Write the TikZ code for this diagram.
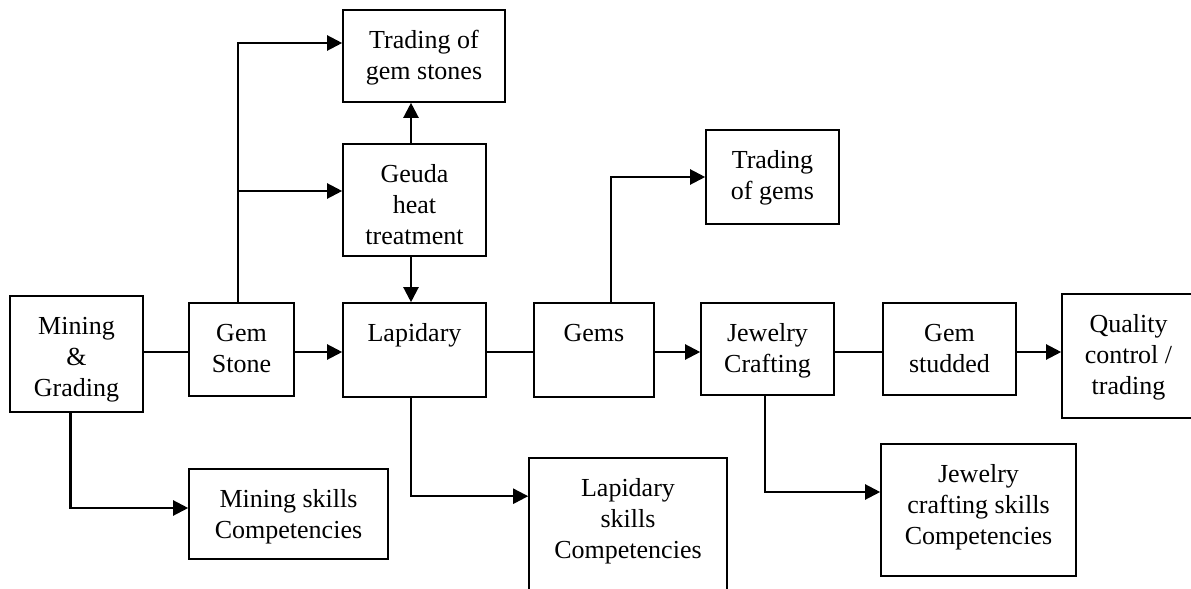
\documentclass[tikz,border=0pt]{standalone}
\usepackage{fontspec}
\setmainfont{Liberation Serif}
\usepackage{tikz}
\usetikzlibrary{arrows.meta}

\tikzset{
  box/.style={draw, line width=0.8pt, align=center, inner sep=0pt,
    font=\fontsize{13}{15.5}\selectfont},
  link/.style={line width=0.8pt},
  flow/.style={line width=1.1pt, -{Triangle[length=7.5pt, width=7.5pt]}}
}

\begin{document}
\begin{tikzpicture}[x=0.5pt, y=-0.5pt]
    \useasboundingbox (0, 0) rectangle (1191, 589);
    \coordinate (axis) at (0, 352);

    % main chain
    \node (mining) at (76.5, 354)
      [box, minimum width=66.5pt, text height=50pt, text depth=8pt]
      {Mining \\ \& \\ Grading};
    \node (gemstone) at (241.5, 349.5)
      [box, minimum width=52.5pt, text height=34.5pt, text depth=12pt]
      {Gem \\ Stone};
    \node (lapidary) at (414.5, 350)
      [box, minimum width=71.5pt, text height=19pt, text depth=28pt]
      {Lapidary};
    \node (gems) at (594, 350)
      [box, minimum width=60pt, text height=19pt, text depth=28pt]
      {Gems};
    \node (jewelry) at (767.5, 349)
      [box, minimum width=66.5pt, text height=34.5pt, text depth=11.5pt]
      {Jewelry \\ Crafting};
    \node (studded) at (949.5, 349)
      [box, minimum width=66.5pt, text height=34.5pt, text depth=11.5pt]
      {Gem \\ studded};
    \node (quality) at (1128.5, 356)
      [box, minimum width=66.5pt, text height=50pt, text depth=12pt]
      {Quality \\ control / \\ trading};

    % upper branch
    \node (tradestones) at (424, 56)
      [box, minimum width=81pt, text height=34.5pt, text depth=11.5pt]
      {Trading of \\ gem stones};
    \node (geuda) at (414.5, 200)
      [box, minimum width=71.5pt, text height=50pt, text depth=6pt]
      {Geuda \\ heat \\ treatment};
    \node (tradegems) at (772.5, 177)
      [box, minimum width=66.5pt, text height=34.5pt, text depth=12.5pt]
      {Trading \\ of gems};

    % skills
    \node (miningskills) at (288.5, 514)
      [box, minimum width=99.5pt, text height=34.5pt, text depth=10.5pt]
      {Mining skills \\ Competencies};
    \node (lapskills) at (628, 528)
      [box, minimum width=99pt, text height=50pt, text depth=20pt]
      {Lapidary \\ skills \\ Competencies};
    \node (jewelskills) at (978.5, 510)
      [box, minimum width=97.5pt, text height=50pt, text depth=16pt]
      {Jewelry \\ crafting skills \\ Competencies};

    \coordinate (geudain) at ([yshift=4.5pt]geuda.west);
    \coordinate (stonesin) at ([yshift=6.5pt]tradestones.west);
    \coordinate (lapin) at ([yshift=-19.5pt]lapskills.north west);

    \draw[link] (mining.east |- axis) -- (gemstone.west |- axis);
    \draw[flow] (gemstone.east |- axis) -- (lapidary.west |- axis);
    \draw[link] (lapidary.east |- axis) -- (gems.west |- axis);
    \draw[flow] (gems.east |- axis) -- (jewelry.west |- axis);
    \draw[link] (jewelry.east |- axis) -- (studded.west |- axis);
    \draw[flow] (studded.east |- axis) -- (quality.west |- axis);

    \draw[flow] ([xshift=-1.75pt]gemstone.north) |- (stonesin);
    \draw[flow] ([xshift=-1.75pt]gemstone.north |- geudain) -- (geudain);
    \draw[flow] ([xshift=-1.75pt]geuda.north) -- ([xshift=-1.75pt]geuda.north |- tradestones.south);
    \draw[flow] ([xshift=-1.75pt]geuda.south) -- ([xshift=-1.75pt]lapidary.north);
    \draw[flow] ([xshift=8.5pt]gems.north) |- (tradegems.west);

    \draw[flow] ([xshift=-3pt]mining.south) |- ([yshift=3pt]miningskills.west);
    \draw[flow] ([xshift=-1.75pt]lapidary.south) |- (lapin);
    \draw[flow] ([xshift=-1.25pt]jewelry.south) |- ([yshift=9pt]jewelskills.west);
  \end{tikzpicture}
\end{document}
